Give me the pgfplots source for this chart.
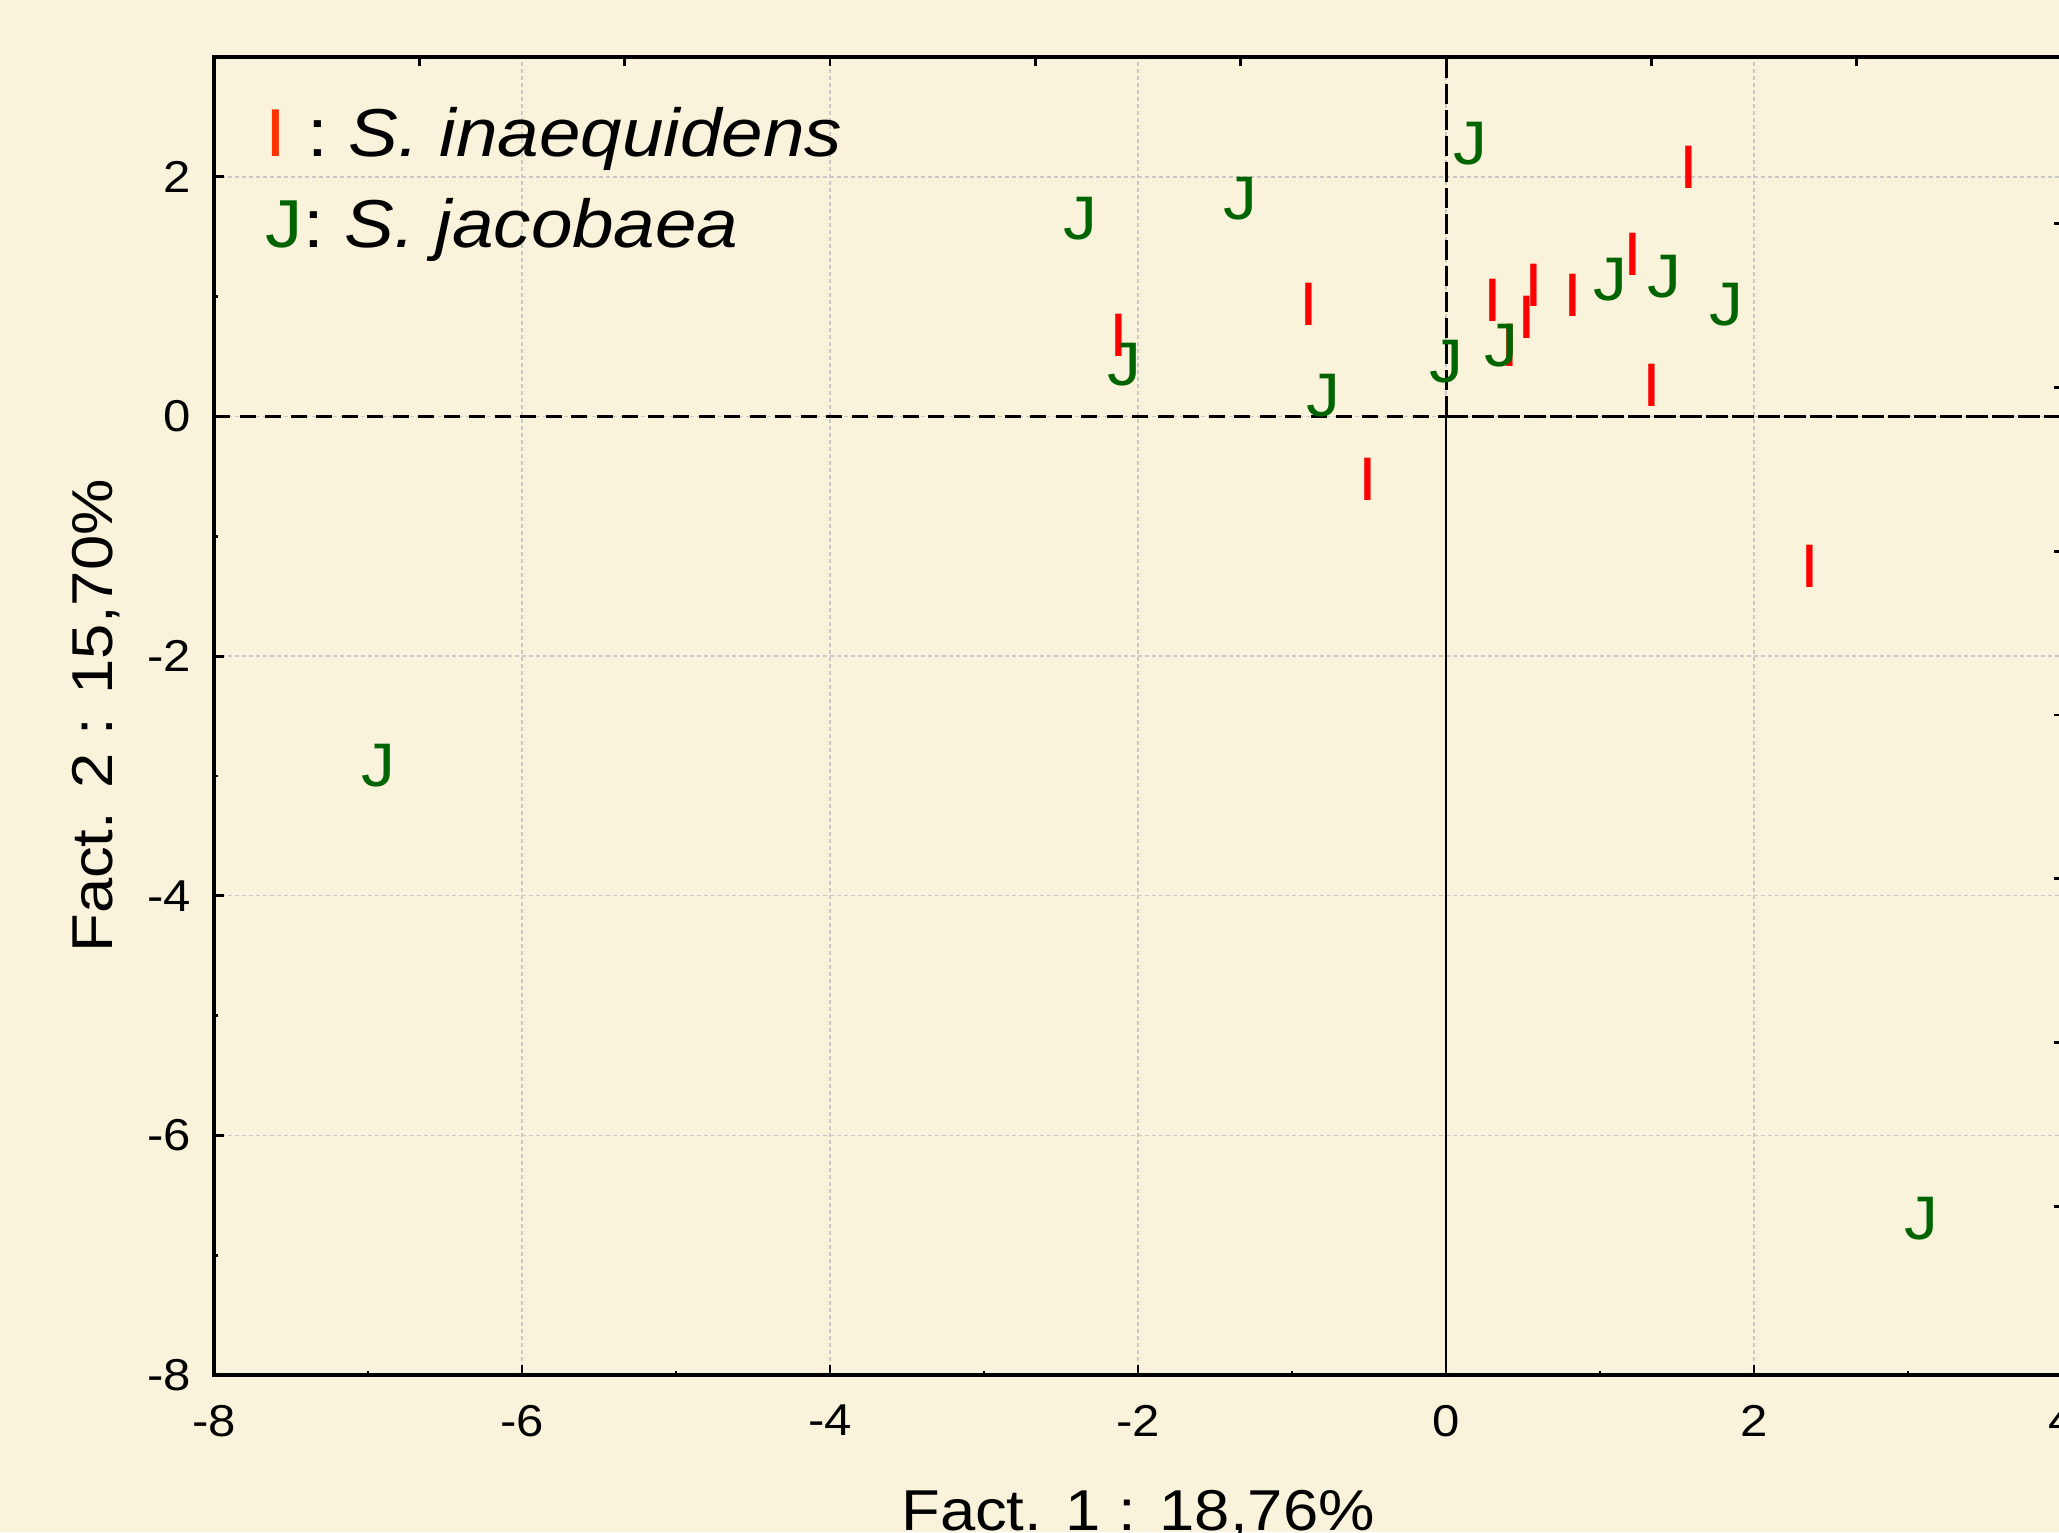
\documentclass[border=0pt]{standalone}
\usepackage{fontspec}
\setmainfont{Liberation Sans}[FakeStretch=1.1]
\usepackage{pgfplots}
\usepackage{pgfplotstable}
\pgfplotsset{compat=1.18}
\definecolor{bgc}{RGB}{250,243,220}
\definecolor{mred}{RGB}{255,0,0}
\definecolor{lred}{RGB}{255,51,0}
\definecolor{mgreen}{RGB}{0,100,0}
\definecolor{gridc}{RGB}{200,200,200}

\pgfplotstableread{
x y
1.574 2.083
-2.122 0.674
-0.892 0.933
-0.509 -0.525
0.306 0.967
0.412 0.595
0.526 0.830
0.568 1.092
0.827 1.013
1.213 1.351
1.334 0.256
2.365 -1.251
}\seriesI

\pgfplotstableread{
x y
-2.372 1.652
-1.334 1.814
0.159 2.280
-2.086 0.434
-0.795 0.173
0.003 0.460
0.359 0.591
1.067 1.142
1.418 1.169
1.820 0.933
-6.933 -2.915
3.086 -6.696
}\seriesJ

\begin{document}
\begin{tikzpicture}
\fill[bgc] (-2.14,-1.57) rectangle (18.45,13.75);
\begin{axis}[
  at={(0,0)}, anchor=south west, scale only axis,
  width=18.48cm, height=13.18cm,
  xmin=-8, xmax=4, ymin=-8, ymax=3,
  line width=1.1pt,
  axis line style={line width=1.1pt, black},
  xtick={-8,-6,-4,-2,0,2,4}, xticklabels={-8,-6,-4,-2,0,2,4},
  ytick={-8,-6,-4,-2,0,2}, yticklabels={-8,-6,-4,-2,0,2},
  minor x tick num=1, minor y tick num=1,
  xtick pos=bottom, ytick pos=left,
  tick align=inside,
  major tick length=0.1cm, minor tick length=0.045cm,
  tick style={black, line width=0.8pt},
  grid=major,
  major grid style={gridc, dash pattern=on 0.04cm off 0.03cm, line width=0.4pt},
  ticklabel style={font=\fontsize{12.7}{14}\selectfont, inner sep=0pt},
  xticklabel style={yshift=-0.28cm},
  yticklabel style={xshift=-0.21cm},
  xlabel={Fact. 1 : 18,76\%},
  ylabel={Fact. 2 : 15,70\%},
  label style={font=\fontsize{16.4}{18}\selectfont, inner sep=0pt},
  xlabel style={at={(axis description cs:0.5,-0.1176)}, anchor=base},
  ylabel style={at={(axis description cs:-0.0547,0.5)}, anchor=base},
]
\draw[line width=0.9pt, dash pattern=on 0.16cm off 0.095cm] (axis cs:-8,0) -- (axis cs:0,0);
\draw[line width=0.9pt, dash pattern=on 0.22cm off 0.04cm] (axis cs:0,0) -- (axis cs:4,0);
\draw[line width=0.85pt, dash pattern=on 0.2cm off 0.06cm] (axis cs:0,0) -- (axis cs:0,3);
\draw[line width=0.8pt] (axis cs:0,0) -- (axis cs:0,-8);
\addplot[only marks, mred, mark=text, text mark={I}, text mark as node=true,
  text mark style={font=\fontsize{17.5}{17.5}\selectfont, inner sep=0pt, text=mred}]
  table[x=x, y=y] {\seriesI};
\addplot[only marks, mgreen, mark=text, text mark={J}, text mark as node=true,
  text mark style={font=\fontsize{17.5}{17.5}\selectfont, inner sep=0pt, text=mgreen}]
  table[x=x, y=y] {\seriesJ};
\end{axis}
\begin{axis}[
  at={(0,0)}, anchor=south west, scale only axis,
  width=18.48cm, height=13.18cm,
  xmin=-8, xmax=4, ymin=-8, ymax=3,
  axis x line*=top, axis y line*=right,
  line width=1.1pt,
  axis line style={line width=1.1pt, black},
  xtick={-8,-6.6667,-5.3333,-4,-2.6667,-1.3333,0,1.3333,2.6667,4},
  xticklabels={},
  ytick={-6.592,-5.225,-3.858,-2.491,-1.124,0.243,1.610},
  yticklabels={},
  minor x tick num=1, minor y tick num=0,
  tick align=inside,
  major tick length=0.085cm, minor tick length=0.035cm,
  tick style={black, line width=0.8pt},
]
\end{axis}
\node[anchor=base west, inner sep=0pt, font=\fontsize{19.3}{19.3}\selectfont] at (0.51,12.18)
  {\textcolor{lred}{I} : \textit{S. inaequidens}};
\node[anchor=base west, inner sep=0pt, font=\fontsize{19.3}{19.3}\selectfont] at (0.51,11.27)
  {\textcolor{mgreen}{J}: \textit{S. jacobaea}};
\pgfresetboundingbox
\useasboundingbox (-2.14,-1.57) rectangle (18.45,13.75);
\end{tikzpicture}
\end{document}
